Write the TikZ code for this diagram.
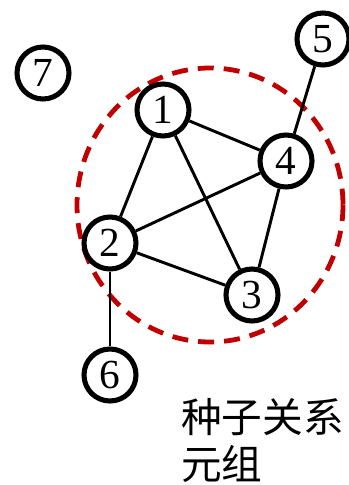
\documentclass[tikz,border=0pt]{standalone}
\usepackage{fontspec}
\setmainfont{Liberation Serif}
\newfontfamily\cjk{Noto Sans CJK SC}
\usepackage{tikz}
\usepackage{xcolor}
\definecolor{SeedRed}{RGB}{192,0,0}

\begin{document}
\begin{tikzpicture}[
    x=0.75pt, y=-0.75pt,
    vertex/.style={circle, draw=black, line width=3.8pt, fill=white,
      minimum size=39pt, inner sep=0pt, font=\fontsize{31}{31}\selectfont},
    link/.style={line width=2.2pt},
    seed/.style={draw=SeedRed, line width=3.6pt, dash pattern=on 12pt off 7.5pt}
  ]
  \useasboundingbox (0,0) rectangle (349,485);

  % seed region
  \draw[seed] (210,205) ellipse [x radius=133, y radius=137];

  \node[vertex] (n1) at (163,110) {1};
  \node[vertex] (n2) at (110,243) {2};
  \node[vertex] (n3) at (252,295) {3};
  \node[vertex] (n4) at (286,161) {4};
  \node[vertex] (n5) at (323,39) {5};
  \node[vertex] (n6) at (110,375) {6};
  \node[vertex] (n7) at (43,73) {7};

  \draw[link] (n1) -- (n2);
  \draw[link] (n1) -- (n3);
  \draw[link] (n1) -- (n4);
  \draw[link] (n2) -- (n4);
  \draw[link] (n2) -- (n3);
  \draw[link] (n3) -- (n4);
  \draw[link] (n4) -- (n5);
  \draw[link] (n2) -- (n6);

  \node[anchor=north west, inner sep=0pt, align=left,
    font=\cjk\fontsize{30.5}{35.5}\selectfont] (caption) at (181,398)
    {种子关系\\元组};
\end{tikzpicture}
\end{document}
